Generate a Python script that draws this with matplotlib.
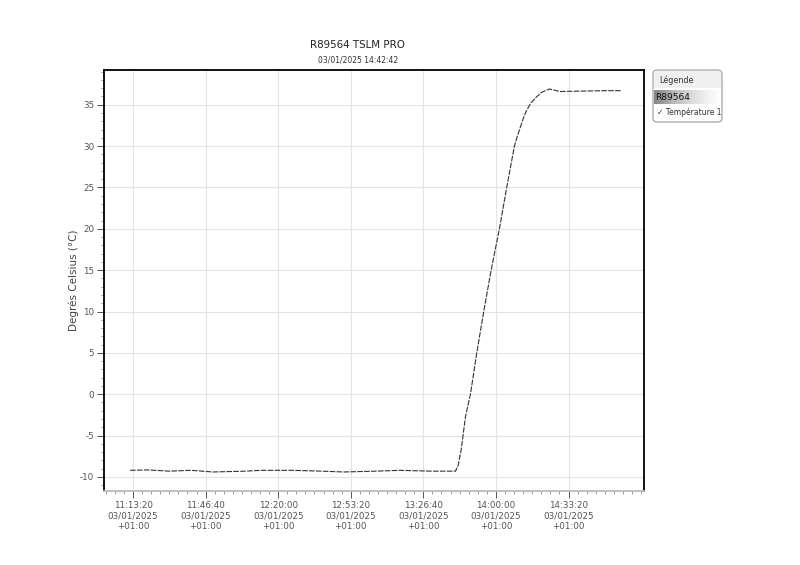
import numpy as np
import pandas as pd
import matplotlib
matplotlib.use("Agg")
import matplotlib.pyplot as plt
import matplotlib.dates as mdates
from matplotlib.patches import FancyBboxPatch, Rectangle

plt.rcParams['axes.unicode_minus'] = False
plt.rcParams['font.family'] = ['DejaVu Sans']

# logger readings (time of day, temperature in degC)
times = ["11:12:00", "11:20:00", "11:30:00", "11:40:00", "11:50:00", "12:05:00",
         "12:12:00", "12:27:00", "12:40:00", "12:50:00", "13:05:00", "13:16:00",
         "13:30:00", "13:41:26", "13:42:40", "13:44:03", "13:46:01", "13:48:18",
         "13:51:12", "13:54:24", "13:57:48", "14:01:36", "14:04:57", "14:08:29",
         "14:09:50", "14:11:06", "14:12:30", "14:13:51", "14:16:00", "14:18:26",
         "14:21:00", "14:24:32", "14:26:30", "14:29:07", "14:40:00", "14:50:00",
         "14:57:52"]
temps = [-9.2, -9.15, -9.3, -9.2, -9.4, -9.3,
         -9.2, -9.2, -9.3, -9.4, -9.3, -9.2,
         -9.3, -9.3, -8.6, -6.7, -2.7, 0.0,
         5.0, 10.0, 15.0, 20.0, 25.0, 30.0,
         31.2, 32.2, 33.3, 34.2, 35.2, 35.9,
         36.5, 36.9, 36.8, 36.6, 36.65, 36.7,
         36.7]

day = "2025-01-03"
xtick_times = ["11:13:20", "11:46:40", "12:20:00", "12:53:20", "13:26:40", "14:00:00", "14:33:20"]
xtick_labels = [t + "\n03/01/2025\n+01:00" for t in xtick_times]
yticks = [-10, -5, 0, 5, 10, 15, 20, 25, 30, 35]

x = pd.to_datetime([day + " " + t for t in times])

fig = plt.figure(figsize=(8, 5.65), dpi=100)
ax = fig.add_axes([104/800, 1-491/565, 540/800, 421/565])

ax.plot(x, temps, color='#333333', lw=0.8, dashes=(5, 1.2))

x0 = mdates.date2num(pd.Timestamp(day + " 11:00:00"))
x1 = mdates.date2num(pd.Timestamp(day + " 15:08:00"))

xt = mdates.date2num(pd.to_datetime([day + " " + t for t in xtick_times]))
ax.set_xticks(xt)
ax.set_xticklabels(xtick_labels)
step = (xt[1] - xt[0]) / 8
minor = np.arange(xt[0] - 4 * step, xt[-1] + 10 * step, step)
ax.set_xticks(minor[(minor >= x0) & (minor <= x1)], minor=True)
ax.set_yticks(yticks)
ax.set_yticklabels([str(v) for v in yticks])
ax.set_yticks(np.arange(-11, 40, 1), minor=True)
ax.set_xlim(x0, x1)
ax.set_ylim(-11.7, 39.2)

ax.tick_params(axis='both', which='major', labelsize=6.3, labelcolor='#555555',
               color='#555555', length=5, width=0.7)
ax.tick_params(axis='x', which='major', pad=2)
ax.tick_params(axis='y', which='major', pad=2)
ax.tick_params(axis='both', which='minor', color='#777777', length=2.5, width=0.5)
ax.grid(True, which='major', color='#e3e3e3', lw=0.8)
ax.set_axisbelow(True)
for s in ax.spines.values():
    s.set_color('black')
    s.set_linewidth(1.3)
ax.spines['bottom'].set_color('#bbbbbb')

ax.set_ylabel("Degrés Celsius (°C)", fontsize=7.5, color='#444444', labelpad=1)

fig.text(358/800, 1-45/565, "R89564 TSLM PRO", ha='center', va='center', fontsize=7.4, color='#222222')
fig.text(358/800, 1-60/565, "03/01/2025 14:42:42", ha='center', va='center', fontsize=5.5, color='#333333')

# legend panel
W, H = 800, 565
def fx(px): return px / W
def fy(py): return 1 - py / H

box = FancyBboxPatch((fx(653), fy(122)), fx(722) - fx(653), fy(70) - fy(122),
                     boxstyle="round,pad=0,rounding_size=0.006", transform=fig.transFigure,
                     facecolor='white', edgecolor='#999999', lw=0.8)
fig.patches.append(box)
fig.patches.append(Rectangle((fx(654), fy(88)), fx(721) - fx(654), fy(71) - fy(88),
                             transform=fig.transFigure, facecolor='#f0f0f0', edgecolor='none'))
gax = fig.add_axes([fx(654), fy(104), fx(721) - fx(654), fy(90) - fy(104)])
gax.set_zorder(2)
grad = np.linspace(0, 1, 100).reshape(1, -1)
gax.imshow(grad, aspect='auto', cmap='Greys_r', vmin=-0.8, vmax=1.0)
gax.axis('off')
fig.text(fx(659), fy(80), "Légende", fontsize=5.8, color='#333333', va='center', zorder=5)
fig.text(fx(655), fy(97), "R89564", fontsize=6.5, color='#111111', va='center', zorder=5)
fig.text(fx(657), fy(112), "✓ Température 1", fontsize=5.5, color='#333333', va='center', zorder=5)

fig.savefig("out.png", dpi=100)
